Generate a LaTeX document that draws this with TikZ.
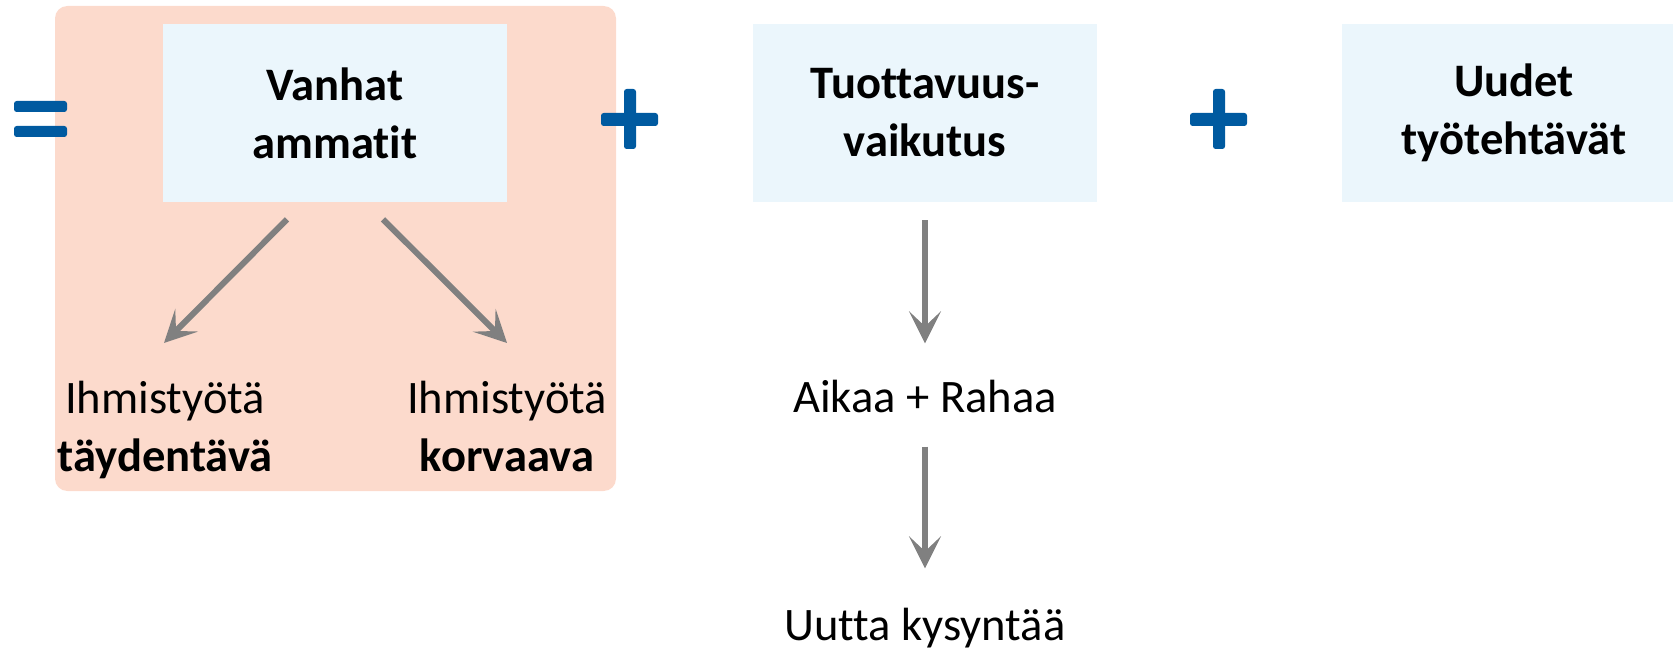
\documentclass[tikz,border=0pt]{standalone}
\usepackage{fontspec}
\setmainfont[Ligatures=NoCommon]{Carlito}
\usetikzlibrary{arrows.meta, positioning}
\definecolor{panelred}{RGB}{252, 218, 204}
\definecolor{boxblue}{RGB}{235, 246, 252}
\definecolor{signblue}{RGB}{0, 90, 160}
\definecolor{arrowgray}{RGB}{128, 128, 128}

\begin{document}
\begin{tikzpicture}[
  every node/.style={font=\fontsize{26.5}{33}\selectfont},
  box/.style={fill=boxblue, minimum width=6.88cm, minimum height=3.56cm,
              inner sep=0pt, align=center, font=\fontsize{26.5}{33}\selectfont\bfseries},
  lbl/.style={inner sep=0pt, align=center},
  flow/.style={-{Stealth[length=0.64cm, width=0.64cm, inset=0.3cm]},
               line width=3.4pt, arrowgray},
]
\useasboundingbox (0,0) rectangle (33.46,-13);

% Old jobs panel
\node[fill=panelred, rounded corners=7pt, minimum width=11.22cm,
      minimum height=9.7cm, inner sep=0pt] (panel) at (6.71, -4.97) {};

% Boxes
\node[box] (vanhat) at (6.70, -2.26) {Vanhat\\ammatit};
\node[box] (tuott) at (18.50, -2.26) {Tuottavuus-\\vaikutus};
\node[box] (uudet) at (30.28, -2.26) {Uudet\\työtehtävät};

% Signs
\fill[signblue, rounded corners=1.5pt] (0.28, -2.02) rectangle (1.34, -2.24);
\fill[signblue, rounded corners=1.5pt] (0.28, -2.52) rectangle (1.34, -2.74);
\fill[signblue, rounded corners=1.5pt] (12.02, -2.26) rectangle (13.16, -2.52);
\fill[signblue, rounded corners=1.5pt] (12.48, -1.78) rectangle (12.72, -2.98);
\fill[signblue, rounded corners=1.5pt] (23.80, -2.26) rectangle (24.94, -2.52);
\fill[signblue, rounded corners=1.5pt] (24.26, -1.78) rectangle (24.50, -2.98);

% Labels
\node[lbl, anchor=north] (tayd) at (3.30, -7.62) {Ihmistyötä\\\textbf{täydentävä}};
\node[lbl, anchor=north] (korv) at (10.14, -7.62) {Ihmistyötä\\\textbf{korvaava}};
\node[lbl, anchor=base] (aikaa) at (18.50, -8.26) {Aikaa + Rahaa};
\node[lbl, anchor=base] (uutta) at (18.50, -12.80) {Uutta kysyntää};

% Arrows
\draw[flow] ([xshift=-0.96cm, yshift=-0.34cm]vanhat.south) -- ([xshift=-0.02cm, yshift=0.76cm]tayd.north);
\draw[flow] ([xshift=0.96cm, yshift=-0.34cm]vanhat.south) -- ([yshift=0.76cm]korv.north);
\draw[flow] ([yshift=-0.36cm]tuott.south) -- ([yshift=0.74cm]aikaa.north);
\draw[flow] ([yshift=-0.66cm]aikaa.south) -- ([yshift=0.78cm]uutta.north);
\end{tikzpicture}
\end{document}
